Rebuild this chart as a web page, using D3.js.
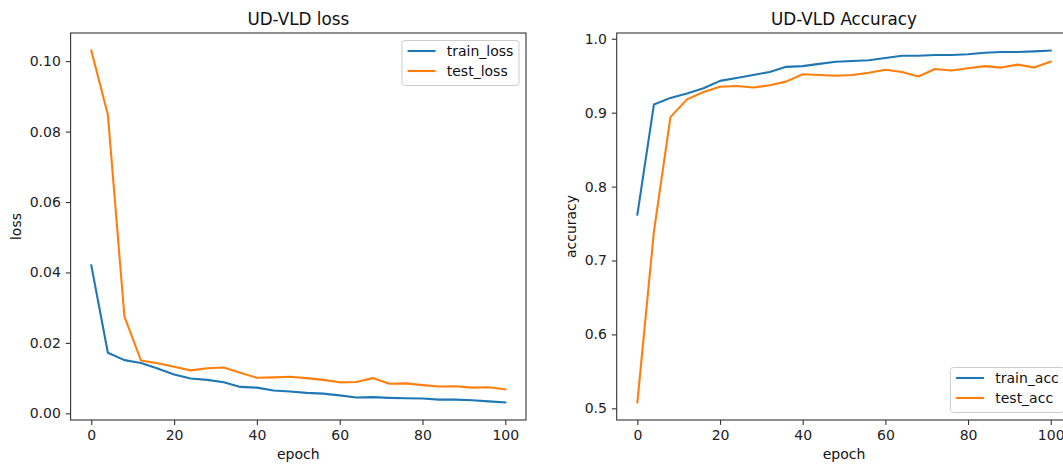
<!DOCTYPE html>
<html>
<head>
<meta charset="utf-8">
<script src="https://cdn.jsdelivr.net/npm/d3@7"></script>
<style>
  html, body { margin: 0; padding: 0; background: #fff; }
  svg { display: block; font-family: "DejaVu Sans", sans-serif; }
  .tick text { fill: #222; }
</style>
</head>
<body>
<div id="chart"></div>
<script>
// data (every 4th epoch)
var epochs = [0,4,8,12,16,20,24,28,32,36,40,44,48,52,56,60,64,68,72,76,80,84,88,92,96,100];
var trainLoss = [0.0420,0.0172,0.0151,0.0143,0.0127,0.0110,0.0099,0.0095,0.0088,0.0075,0.0073,0.0065,0.0062,
                 0.0058,0.0056,0.0051,0.0045,0.0046,0.0044,0.0043,0.0042,0.0039,0.0039,0.0037,0.0034,0.0031];
var testLoss = [0.1030,0.0848,0.0275,0.0150,0.0142,0.0132,0.0122,0.0128,0.0130,0.0115,0.0101,0.0102,0.0104,
                0.0100,0.0095,0.0088,0.0089,0.0100,0.0084,0.0085,0.0080,0.0076,0.0077,0.0073,0.0074,0.0068];
var trainAcc = [0.762,0.911,0.920,0.926,0.933,0.943,0.947,0.951,0.955,0.962,0.963,0.966,0.969,
                0.970,0.971,0.974,0.977,0.977,0.978,0.978,0.979,0.981,0.982,0.982,0.983,0.984];
var testAcc = [0.508,0.739,0.894,0.918,0.928,0.935,0.936,0.934,0.937,0.942,0.952,0.951,0.950,
               0.951,0.954,0.958,0.955,0.949,0.959,0.957,0.960,0.963,0.961,0.965,0.961,0.969];

var xTicks = [0,20,40,60,80,100];
var lossTicks = [0.00,0.02,0.04,0.06,0.08,0.10];
var accTicks = [0.5,0.6,0.7,0.8,0.9,1.0];

var width = 1063, height = 468;
var blue = "#1f77b4", orange = "#ff7f0e";
var fs = 14, tick = 4.9;

var svg = d3.select("#chart").append("svg").attr("width", width).attr("height", height);

function withMargin(lo, hi) {
    var m = (hi - lo) * 0.05;
    return [lo - m, hi + m];
}

function panel(opt) {
    var x = d3.scaleLinear().domain(withMargin(d3.min(epochs), d3.max(epochs))).range([opt.left, opt.right]);
    var all = opt.series[0].values.concat(opt.series[1].values);
    var y = d3.scaleLinear().domain(withMargin(d3.min(all), d3.max(all))).range([opt.bottom, opt.top]);

    var g = svg.append("g");

    opt.series.forEach(function (s) {
        var line = d3.line()
            .x(function (d, i) { return x(epochs[i]); })
            .y(function (d) { return y(d); });
        g.append("path").datum(s.values)
            .attr("fill", "none").attr("stroke", s.color).attr("stroke-width", 2.1)
            .attr("stroke-linejoin", "round").attr("stroke-linecap", "square")
            .attr("d", line);
    });

    var xa = g.append("g").attr("transform", "translate(0," + opt.bottom + ")")
        .call(d3.axisBottom(x).tickValues(xTicks).tickSize(tick).tickPadding(4.9).tickSizeOuter(0));
    var ya = g.append("g").attr("transform", "translate(" + opt.left + ",0)")
        .call(d3.axisLeft(y).tickValues(opt.yTicks).tickFormat(d3.format(opt.fmt)).tickSize(tick).tickPadding(4.9).tickSizeOuter(0));
    [xa, ya].forEach(function (a) {
        a.select(".domain").remove();
        a.selectAll(".tick line").attr("stroke", "#333").attr("stroke-width", 1.1);
        a.selectAll(".tick text").attr("font-size", fs).attr("font-family", "DejaVu Sans");
    });

    g.append("rect")
        .attr("x", opt.left).attr("y", opt.top)
        .attr("width", opt.right - opt.left).attr("height", opt.bottom - opt.top)
        .attr("fill", "none").attr("stroke", "#333").attr("stroke-width", 1.1);

    var cx = (opt.left + opt.right) / 2;
    g.append("text").attr("x", cx).attr("y", opt.top - 8.4)
        .attr("text-anchor", "middle").attr("font-size", 16.8).attr("fill", "#111")
        .text(opt.title);
    g.append("text").attr("x", cx).attr("y", 459)
        .attr("text-anchor", "middle").attr("font-size", fs).attr("fill", "#111")
        .text("epoch");
    g.append("text")
        .attr("transform", "translate(" + opt.ylabelX + "," + (opt.top + opt.bottom) / 2 + ") rotate(-90)")
        .attr("text-anchor", "middle").attr("font-size", fs).attr("fill", "#111")
        .text(opt.ylabel);

    // legend
    var lg = g.append("g");
    var box = lg.append("rect").attr("rx", 3).attr("ry", 3)
        .attr("fill", "#fff").attr("fill-opacity", 0.8)
        .attr("stroke", "#ccc").attr("stroke-width", 1);
    var maxW = 0;
    opt.series.forEach(function (s, i) {
        var t = lg.append("text").attr("font-size", fs).attr("fill", "#111")
            .attr("x", 5.6 + 28 + 11.2).attr("y", 10.5 + 20 * i).attr("dy", "0.36em")
            .text(s.name);
        maxW = Math.max(maxW, t.node().getComputedTextLength());
        lg.append("line").attr("x1", 5.6).attr("x2", 5.6 + 28)
            .attr("y1", 10.5 + 20 * i).attr("y2", 10.5 + 20 * i)
            .attr("stroke", s.color).attr("stroke-width", 2.1);
    });
    var bw = 5.6 + 28 + 11.2 + maxW + 5.6, bh = 45;
    box.attr("width", bw).attr("height", bh);
    var lx = opt.right - 7 - bw;
    var ly = opt.legend === "upper" ? opt.top + 7.5 : opt.bottom - 7.5 - bh;
    lg.attr("transform", "translate(" + lx + "," + ly + ")");
}

panel({
    left: 70.6, right: 526, top: 33, bottom: 420,
    title: "UD-VLD loss", ylabel: "loss", ylabelX: 21,
    yTicks: lossTicks, fmt: ".2f", legend: "upper",
    series: [{name: "train_loss", values: trainLoss, color: blue},
             {name: "test_loss", values: testLoss, color: orange}]
});

panel({
    left: 616.7, right: 1071.4, top: 33, bottom: 420,
    title: "UD-VLD Accuracy", ylabel: "accuracy", ylabelX: 576,
    yTicks: accTicks, fmt: ".1f", legend: "lower",
    series: [{name: "train_acc", values: trainAcc, color: blue},
             {name: "test_acc", values: testAcc, color: orange}]
});
</script>
</body>
</html>
